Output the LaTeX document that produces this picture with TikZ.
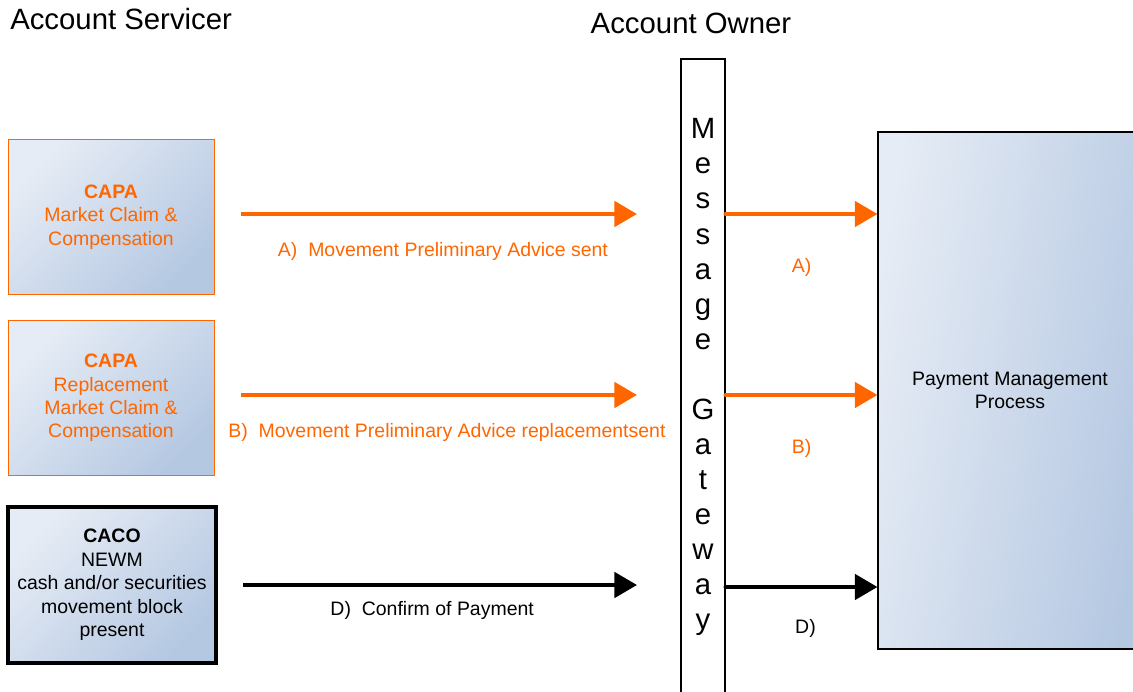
\documentclass[tikz,border=0pt]{standalone}
\usepackage{fontspec}
\setmainfont{Liberation Sans}
\usepackage{xcolor}
\usetikzlibrary{arrows.meta,positioning,calc}

\definecolor{capaorange}{RGB}{255,102,0}
\definecolor{boxlight}{RGB}{230,236,245}
\definecolor{boxdark}{RGB}{181,200,226}

\begin{document}
\begin{tikzpicture}[
  x=0.75pt, y=-0.75pt,
  font=\fontsize{14.6}{17.6}\selectfont,
  box/.style={draw, align=center, inner sep=2pt,
              top color=boxlight, bottom color=boxdark, shading angle=45},
  capa/.style={box, draw=capaorange, text=capaorange,
               minimum width=154.5pt, minimum height=116.25pt},
  caco/.style={box, draw=black, line width=3pt,
               minimum width=156pt, minimum height=117pt},
  gateway/.style={draw=black, thick, fill=white, minimum width=33pt,
                  minimum height=495pt, inner sep=0pt},
  gwletter/.style={font=\fontsize{22}{26}\selectfont, inner sep=0pt},
  process/.style={draw=black, thick, align=center, left color=boxlight,
                  right color=boxdark, shading angle=80,
                  minimum width=198pt, minimum height=387.75pt},
  title/.style={font=\fontsize{22}{26}\selectfont, inner sep=0pt},
  arr/.style={-{Triangle[length=17pt, width=19pt]}, line width=3pt},
  orangearr/.style={arr, draw=capaorange},
  blackarr/.style={arr, draw=black},
  lbl/.style={inner sep=0pt},
  orangelbl/.style={lbl, text=capaorange},
]
\useasboundingbox (0,0) rectangle (1133,692);
\clip (0,0) rectangle (1133,692);

% headings
\node[title, anchor=base west] (servicer) at (10,30) {Account Servicer};
\node[title, anchor=base] (owner) at (691,34) {Account Owner};

% account servicer boxes
\node[capa] (capaA) at (111,217)
  {\textbf{CAPA}\\Market Claim \&\\Compensation};
\node[capa] (capaB) at (111,398)
  {\textbf{CAPA}\\Replacement\\Market Claim \&\\Compensation};
\node[caco] (caco) at (112,585)
  {\textbf{CACO}\\NEWM\\cash and/or securities\\movement block\\present};

% message gateway
\node[gateway] (gw) at (703,389) {};
\foreach \l [count=\i] in {M,e,s,s,a,g,e,{},G,a,t,e,w,a,y}
  \node[gwletter, anchor=base] (gl\i) at (703,139+35*\i-35) {\l};

% account owner process
\node[process] (pmp) at (1010,390.5) {Payment Management\\Process};

% servicer -> gateway
\coordinate (aIn) at (637,214);
\coordinate (bIn) at (637,395);
\coordinate (dIn) at (637,585);
\draw[orangearr] ([xshift=20pt]capaA.east |- aIn) -- (aIn)
  node[orangelbl, midway, below=19.5pt, xshift=3pt] {A)\ \ Movement Preliminary Advice sent};
\draw[orangearr] ([xshift=20pt]capaB.east |- bIn) -- (bIn)
  node[orangelbl, midway, below=19.5pt, xshift=6pt] {B)\ \ Movement Preliminary Advice replacementsent};
\draw[blackarr] ([xshift=19pt]caco.east |- dIn) -- (dIn)
  node[lbl, midway, below=10.5pt, xshift=-6pt] {D)\ \ Confirm of Payment};

% gateway -> process
\draw[orangearr, line cap=round] (gw.east |- aIn) -- (pmp.west |- aIn)
  node[orangelbl, midway, below=32pt] {A)};
\draw[orangearr, line cap=round] (gw.east |- bIn) -- (pmp.west |- bIn)
  node[orangelbl, midway, below=32pt] {B)};
\draw[blackarr, line cap=round] (gw.east |- 0,587) -- (pmp.west |- 0,587)
  node[lbl, midway, below=22.5pt, xshift=3pt] {D)};
\end{tikzpicture}
\end{document}
